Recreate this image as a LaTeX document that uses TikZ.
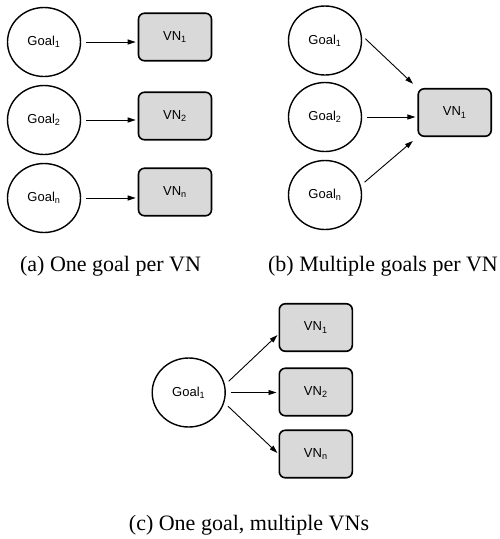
\documentclass[tikz,border=0pt]{standalone}
\usepackage{fontspec}
\setmainfont{Liberation Serif}
\newfontfamily\labelfont{Liberation Sans}
\usepackage{tikz}
\usetikzlibrary{arrows.meta,shapes.geometric,positioning}

\begin{document}
\begin{tikzpicture}[x=1pt,y=-1pt,
goal/.style={draw,ellipse,line width=1.4pt,minimum width=73pt,minimum height=69pt,inner sep=0pt,font=\labelfont\fontsize{13}{15}\selectfont},
vn/.style={draw,rounded corners=6pt,fill=gray!30,line width=1.6pt,minimum width=73pt,minimum height=47.5pt,inner sep=0pt,font=\labelfont\fontsize{13}{15}\selectfont},
arr/.style={-{Triangle[length=8pt,width=5pt]},line width=0.9pt,shorten <=5pt,shorten >=2pt},
captxt/.style={anchor=base,font=\fontsize{22}{26}\selectfont}]
\useasboundingbox (0,0) rectangle (500,539);

\foreach \i/\y/\v in {1/42/37, 2/120/116, n/198/192} {
\node[goal] (ga\i) at (44,\y) {Goal\textsubscript{\i}};
\node[vn] (va\i) at (175,\v) {VN\textsubscript{\i}};
\draw[arr] (ga\i) -- (ga\i -| va\i.west);
}

\node[goal] (gb1) at (325,40.5) {Goal\textsubscript{1}};
\node[goal] (gb2) at (325,117) {Goal\textsubscript{2}};
\node[goal] (gbn) at (325,195) {Goal\textsubscript{n}};
\node[vn] (vb1) at (454.7,112.5) {VN\textsubscript{1}};
\draw[arr,shorten >=6pt] (gb1.8) -- (vb1.north west);
\draw[arr] (gb2) -- (gb2 -| vb1.west);
\draw[arr,shorten >=6pt] (gbn.15) -- (vb1.south west);

\node[goal] (gc) at (188.7,392.5) {Goal\textsubscript{1}};
\node[vn] (vc1) at (315.8,327.5) {VN\textsubscript{1}};
\node[vn] (vc2) at (315.8,392) {VN\textsubscript{2}};
\node[vn] (vcn) at (315.8,454) {VN\textsubscript{n}};
\draw[arr,shorten >=1.5pt] (gc.12) -- (vc1.190);
\draw[arr] (gc) -- (gc -| vc2.west);
\draw[arr,shorten >=1.5pt] (gc.-16) -- (vcn.west);

\node[captxt] (capa) at (110.5,271.7) {(a) One goal per VN};
\node[captxt] (capb) at (383,271.7) {(b) Multiple goals per VN};
\node[captxt] (capc) at (249,530) {(c) One goal, multiple VNs};
\end{tikzpicture}
\end{document}
